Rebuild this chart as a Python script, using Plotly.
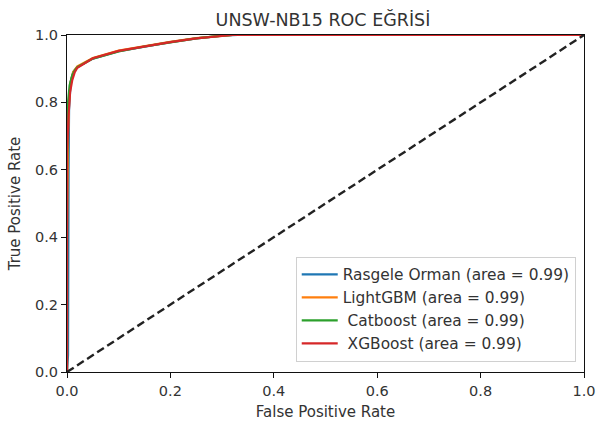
import plotly.graph_objects as go

title = "UNSW-NB15 ROC EĞRİSİ"
names = ["Rasgele Orman (area = 0.99)", "LightGBM (area = 0.99)",
         "\u00a0Catboost (area = 0.99)", "\u00a0XGBoost (area = 0.99)"]
colors = ["#1f77b4", "#ff7f0e", "#2ca02c", "#d62728"]

rf_fpr = [0.0, 0.002, 0.003, 0.004, 0.007, 0.012, 0.02, 0.05, 0.1, 0.15, 0.2, 0.25, 0.3, 0.33, 1.0]
rf_tpr = [0.0, 0.05, 0.60, 0.78, 0.86, 0.89, 0.905, 0.93, 0.952, 0.966, 0.979, 0.99, 0.998, 1.0, 1.0]

lgb_fpr = [0.0, 0.0, 0.002, 0.004, 0.007, 0.012, 0.02, 0.05, 0.1, 0.15, 0.2, 0.25, 0.3, 0.32, 1.0]
lgb_tpr = [0.0, 0.4, 0.70, 0.80, 0.86, 0.89, 0.907, 0.932, 0.954, 0.968, 0.98, 0.991, 0.998, 1.0, 1.0]

cb_fpr = [0.0, 0.0, 0.002, 0.005, 0.01, 0.015, 0.02, 0.05, 0.1, 0.15, 0.2, 0.25, 0.3, 0.32, 1.0]
cb_tpr = [0.0, 0.6, 0.80, 0.85, 0.88, 0.895, 0.905, 0.93, 0.951, 0.966, 0.978, 0.99, 0.998, 1.0, 1.0]

xgb_fpr = [0.0, 0.0, 0.003, 0.006, 0.01, 0.015, 0.02, 0.05, 0.1, 0.15, 0.2, 0.25, 0.3, 0.32, 1.0]
xgb_tpr = [0.0, 0.65, 0.76, 0.83, 0.865, 0.89, 0.903, 0.931, 0.953, 0.967, 0.979, 0.99, 0.998, 1.0, 1.0]

diag = [0.0, 1.0]
ticks = [0.0, 0.2, 0.4, 0.6, 0.8, 1.0]
tick_text = ["0.0", "0.2", "0.4", "0.6", "0.8", "1.0"]

fig = go.Figure()
for fx, ty, nm, c in zip([rf_fpr, lgb_fpr, cb_fpr, xgb_fpr],
                         [rf_tpr, lgb_tpr, cb_tpr, xgb_tpr], names, colors):
    fig.add_trace(go.Scatter(x=fx, y=ty, mode="lines", name=nm,
                             line=dict(color=c, width=2.2)))
fig.add_trace(go.Scatter(x=diag, y=diag, mode="lines", showlegend=False,
                         line=dict(color="#222222", width=2.4, dash="8px,4px")))

axis_common = dict(range=[0, 1], tickvals=ticks, ticktext=tick_text,
                   showgrid=False, zeroline=False, showline=True, mirror=True,
                   linecolor="#111111", linewidth=1.2, ticks="outside", ticklen=5,
                   tickcolor="#111111", tickfont=dict(size=14.5, color="#333333"),
                   fixedrange=True, automargin=False)

fig.update_layout(
    width=597, height=424,
    margin=dict(l=67, r=13, t=35, b=52, autoexpand=False),
    paper_bgcolor="white", plot_bgcolor="white",
    font=dict(family="DejaVu Sans", color="#333333"),
    title=dict(text=title, x=0.541, xanchor="center", y=0.953, yanchor="middle",
               font=dict(size=17.5, color="#333333")),
    xaxis=dict(title=dict(text="False Positive Rate", font=dict(size=15), standoff=8), **axis_common),
    yaxis=dict(title=dict(text="True Positive Rate", font=dict(size=15), standoff=10), **axis_common),
    legend=dict(x=0.984, y=0.03, xanchor="right", yanchor="bottom",
                bgcolor="white", bordercolor="#d0d0d0", borderwidth=1,
                font=dict(size=15.4, color="#333333"), tracegroupgap=0,
                itemwidth=36),
    showlegend=True,
)

fig.write_html("out.html", config={"displayModeBar": False},
               post_script="document.body.style.margin='0';")
